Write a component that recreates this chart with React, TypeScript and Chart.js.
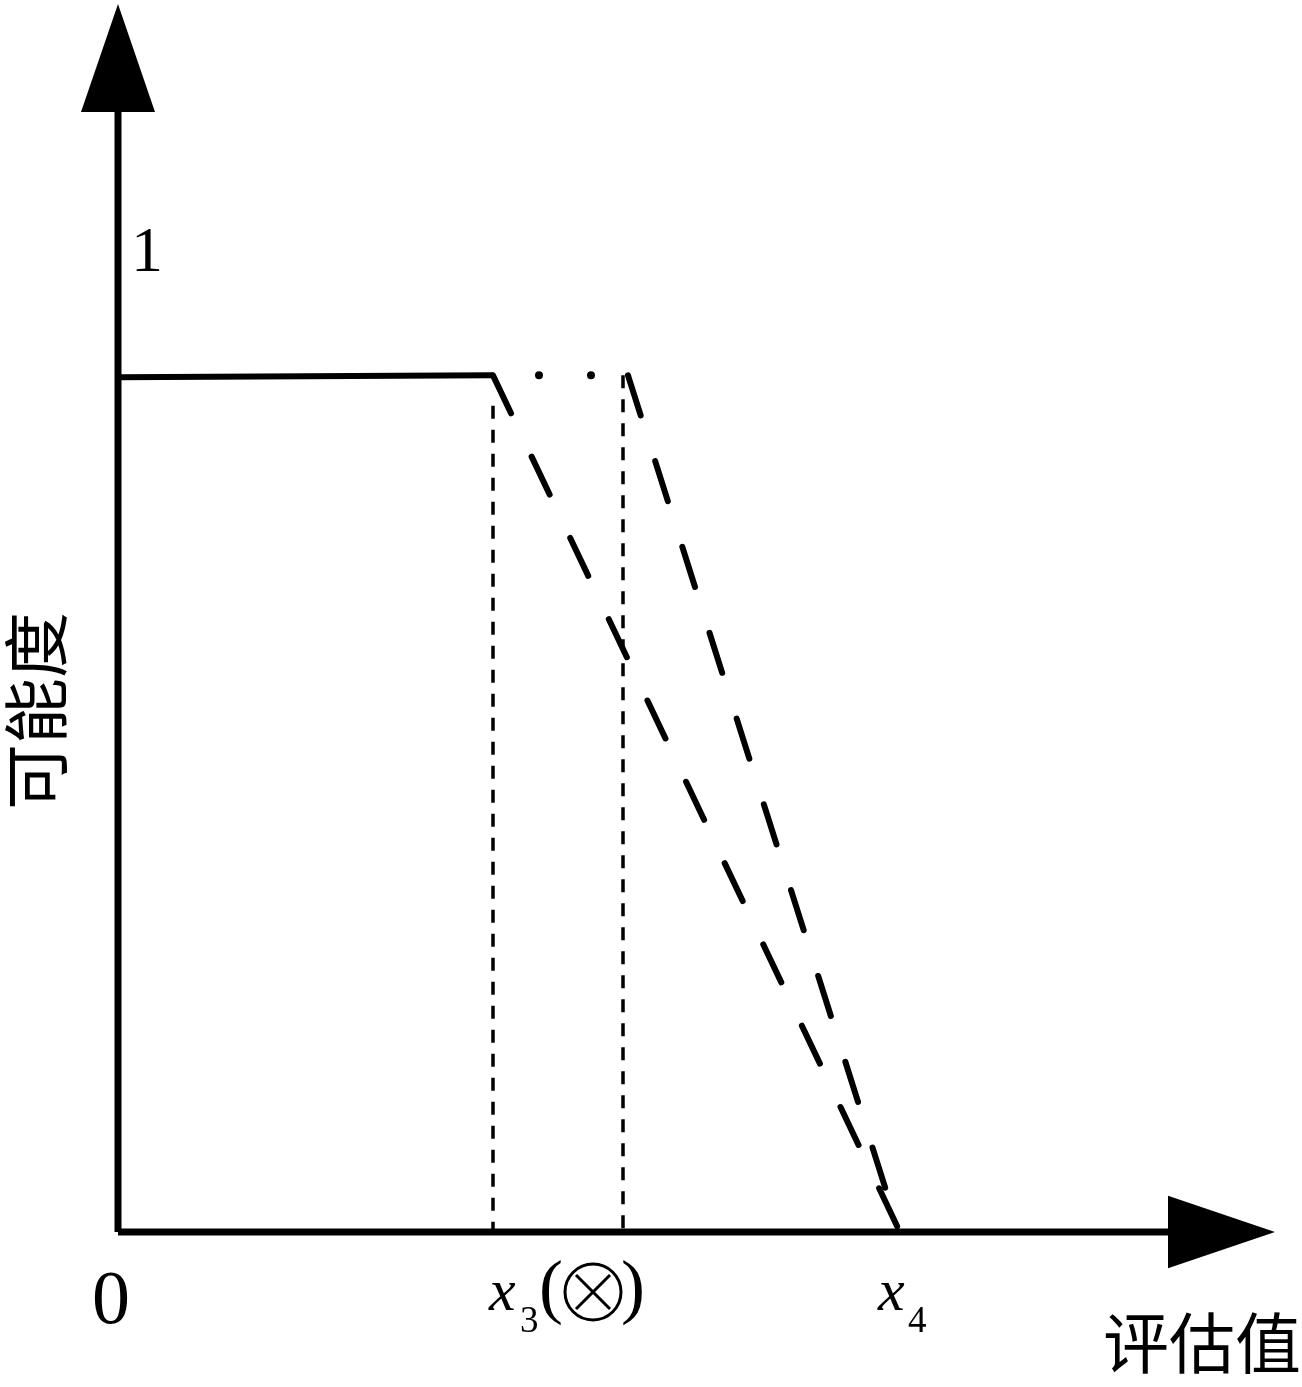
import React, { useEffect, useRef } from "react";
import { Chart, registerables } from "chart.js";

Chart.register(...registerables);

// ---- data (x: evaluation value, y: possibility degree) ----
const xMax = 1.157;
const yMax = 1.25;
const plateauY = 0.872;
const x3 = 0.375;
const x3Right = 0.51;
const x4 = 0.78;

const yAxisLine = [{ x: 0, y: 0 }, { x: 0, y: 1.14 }];
const xAxisLine = [{ x: 0, y: 0 }, { x: 1.05, y: 0 }];
const yArrow = [{ x: -0.037, y: 1.14 }, { x: 0, y: 1.25 }, { x: 0.037, y: 1.14 }];
const xArrow = [{ x: 1.05, y: 0.037 }, { x: 1.157, y: 0 }, { x: 1.05, y: -0.037 }];
const plateau = [{ x: 0, y: 0.87 }, { x: x3, y: plateauY }];
const leftSlope = [{ x: x3, y: plateauY }, { x: x4, y: 0.004 }];
const rightSlope = [{ x: x3Right, y: plateauY }, { x: x4, y: 0.004 }];
const topDots = [{ x: 0.421, y: plateauY }, { x: 0.473, y: plateauY }];
const leftVertical = [{ x: x3, y: 0.841 }, { x: x3, y: -0.008 }];
const rightVertical = [{ x: 0.505, y: plateauY }, { x: 0.505, y: 0 }];

const yTickLabel = "1";
const originLabel = "0";
const yTitle = "可能度";
const xTitle = "评估值";

export default function App() {
  const ref = useRef<HTMLCanvasElement | null>(null);

  useEffect(() => {
    if (!ref.current) return;
    const line = (data: any[], extra: any = {}) => ({
      data,
      showLine: true,
      borderColor: "#000",
      backgroundColor: "#000",
      pointRadius: 0,
      borderWidth: 6,
      clip: false,
      fill: false,
      ...extra,
    });

    const arrowPlugin = {
      id: "arrows",
      afterDatasetsDraw(chart: any) {
        const ctx = chart.ctx;
        const xs = chart.scales.x;
        const ys = chart.scales.y;
        ctx.save();
        ctx.fillStyle = "#000";
        [yArrow, xArrow].forEach((tri) => {
          ctx.beginPath();
          tri.forEach((p, i) => {
            const px = xs.getPixelForValue(p.x);
            const py = ys.getPixelForValue(p.y);
            if (i === 0) ctx.moveTo(px, py);
            else ctx.lineTo(px, py);
          });
          ctx.closePath();
          ctx.fill();
        });
        ctx.restore();
      },
    };

    const labelPlugin = {
      id: "labels",
      afterDatasetsDraw(chart: any) {
        const ctx = chart.ctx;
        const xs = chart.scales.x;
        const ys = chart.scales.y;
        ctx.save();
        ctx.fillStyle = "#000";
        ctx.strokeStyle = "#000";
        // "1"
        ctx.font = '64px "Liberation Serif"';
        ctx.textAlign = "center";
        ctx.textBaseline = "alphabetic";
        ctx.fillText(yTickLabel, xs.getPixelForValue(0) + 29, ys.getPixelForValue(1) + 21);
        // "0"
        const y0 = ys.getPixelForValue(0);
        ctx.font = '76px "Liberation Serif"';
        ctx.fillText(originLabel, xs.getPixelForValue(0) - 7, y0 + 91);
        // x3(⊗)
        ctx.textAlign = "left";
        const base = y0 + 78;
        const p3 = xs.getPixelForValue(x3);
        ctx.font = 'italic 60px "Liberation Serif"';
        ctx.fillText("x", p3 - 4, base);
        ctx.font = '37px "Liberation Serif"';
        ctx.fillText("3", p3 + 27, base + 22);
        ctx.font = '72px "Liberation Serif"';
        ctx.fillText("(", p3 + 46, base);
        ctx.fillText(")", p3 + 128, base);
        // ⊗ drawn as circle and cross
        const cx = p3 + 100;
        const cy = y0 + 60;
        ctx.lineWidth = 3;
        ctx.beginPath();
        ctx.arc(cx, cy, 28, 0, Math.PI * 2);
        ctx.stroke();
        ctx.beginPath();
        ctx.moveTo(cx - 17, cy - 17);
        ctx.lineTo(cx + 17, cy + 17);
        ctx.moveTo(cx + 17, cy - 17);
        ctx.lineTo(cx - 17, cy + 17);
        ctx.stroke();
        // x4
        const p4 = xs.getPixelForValue(x4);
        ctx.font = 'italic 60px "Liberation Serif"';
        ctx.fillText("x", p4 - 20, base);
        ctx.font = '37px "Liberation Serif"';
        ctx.fillText("4", p4 + 10, base + 22);
        // titles
        ctx.font = '66px "Noto Sans CJK SC"';
        ctx.textAlign = "left";
        ctx.textBaseline = "middle";
        ctx.fillText(xTitle, 1103, 1343);
        ctx.translate(36, 711);
        ctx.rotate(-Math.PI / 2);
        ctx.textAlign = "center";
        ctx.fillText(yTitle, 0, 0);
        ctx.restore();
      },
    };

    const chart = new Chart(ref.current, {
      type: "scatter",
      data: {
        datasets: [
          line(yAxisLine, { borderWidth: 7, borderCapStyle: "butt" }),
          line(xAxisLine, { borderWidth: 7, borderCapStyle: "butt" }),
          line(plateau, { borderWidth: 6 }),
          line(leftSlope, { borderWidth: 6, borderDash: [42, 48], borderCapStyle: "round" }),
          line(rightSlope, { borderWidth: 6, borderDash: [42, 48], borderCapStyle: "round" }),
          line(topDots, { showLine: false, pointRadius: 4, borderWidth: 0 }),
          line(leftVertical, { borderWidth: 3.5, borderDash: [13, 11] }),
          line(rightVertical, { borderWidth: 3.5, borderDash: [13, 11] }),
        ],
      },
      options: {
        animation: false,
        responsive: false,
        maintainAspectRatio: false,
        layout: { padding: { left: 118, right: 27, top: 0, bottom: 155 } },
        plugins: { legend: { display: false }, tooltip: { enabled: false } },
        scales: {
          x: { type: "linear", min: 0, max: xMax, display: false },
          y: { type: "linear", min: 0, max: yMax, display: false },
        },
      },
      plugins: [arrowPlugin, labelPlugin],
    });
    return () => chart.destroy();
  }, []);

  return (
    <div style={{ position: "fixed", left: 0, top: 0, width: 1302, height: 1387, background: "#fff" }}>
      <canvas ref={ref} width={1302} height={1387} style={{ width: 1302, height: 1387 }} />
    </div>
  );
}
